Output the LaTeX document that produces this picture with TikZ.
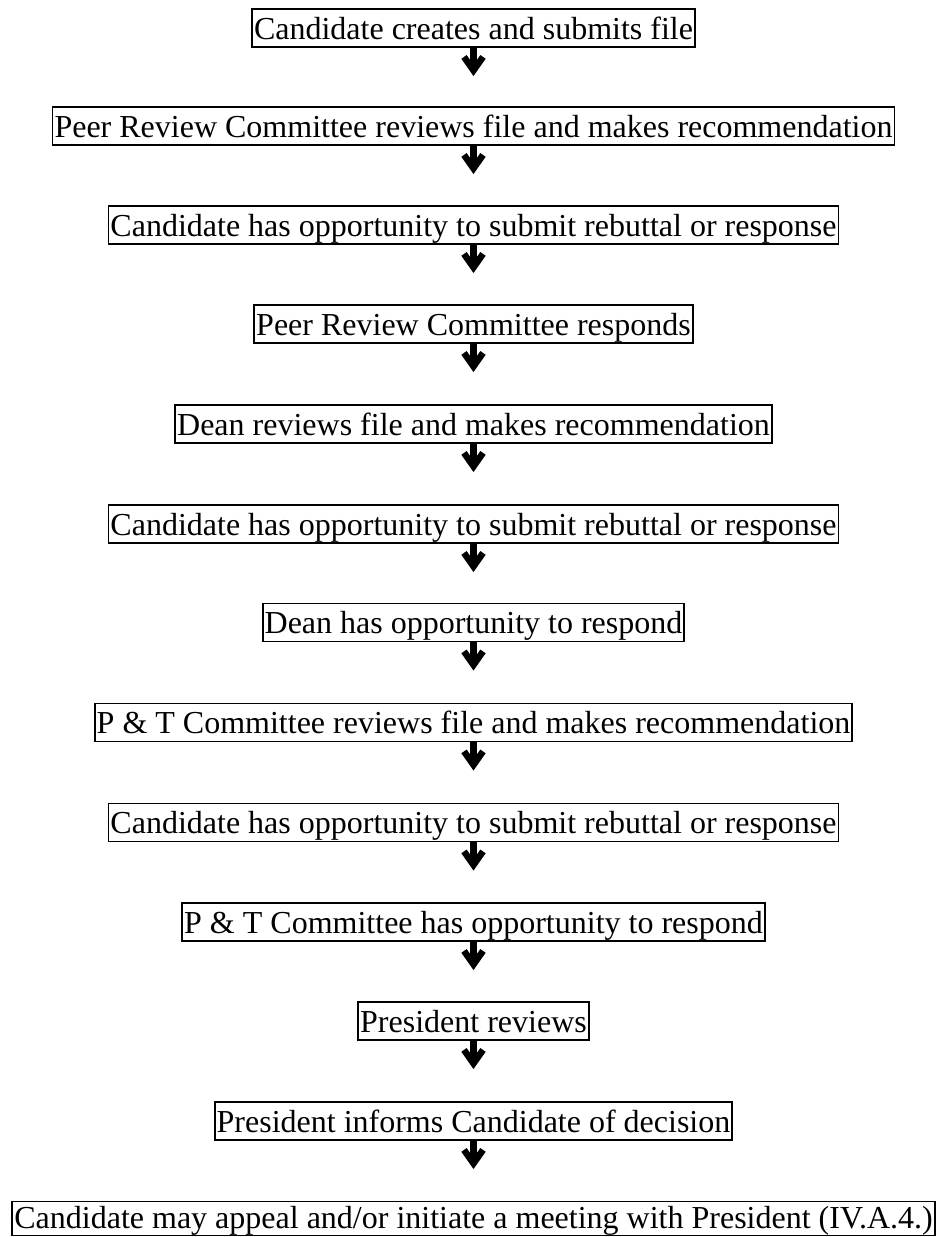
\documentclass[tikz,border=0pt]{standalone}
\usepackage{fontspec}
\setmainfont{Liberation Serif}
\usetikzlibrary{calc}
\tikzset{
  stepbox/.style={draw, line width=1.8pt, inner xsep=2pt, inner ysep=0.5pt,
    text height=29.5pt, text depth=7.5pt, font=\fontsize{32}{38}\selectfont},
  lastbox/.style={stepbox, text height=26.5pt, text depth=6.5pt},
  shaftline/.style={line width=6.5pt},
  headline/.style={line width=6.5pt, line join=miter, miter limit=10}
}
\begin{document}
\begin{tikzpicture}[x=1pt,y=-1pt]
\useasboundingbox (0,0) rectangle (938,1237);
\node[stepbox] (b1) at (473.5,28) {Candidate creates and submits file};
\node[stepbox] (b2) at (473.5,126) {Peer Review Committee reviews file and makes recommendation};
\node[stepbox] (b3) at (473.5,225) {Candidate has opportunity to submit rebuttal or response};
\node[stepbox] (b4) at (473.5,324) {Peer Review Committee responds};
\node[stepbox] (b5) at (473.5,424) {Dean reviews file and makes recommendation};
\node[stepbox] (b6) at (473.5,524) {Candidate has opportunity to submit rebuttal or response};
\node[stepbox] (b7) at (473.5,622.5) {Dean has opportunity to respond};
\node[stepbox] (b8) at (473.5,722.5) {P \& T Committee reviews file and makes recommendation};
\node[stepbox] (b9) at (473.5,822.5) {Candidate has opportunity to submit rebuttal or response};
\node[stepbox] (b10) at (473.5,922) {P \& T Committee has opportunity to respond};
\node[stepbox] (b11) at (473.5,1021) {President reviews};
\node[stepbox] (b12) at (473.5,1121) {President informs Candidate of decision};
\node[lastbox] (b13) at (473.5,1218.5) {Candidate may appeal and/or initiate a meeting with President (IV.A.4.)};
\foreach \a in {b1,b2,b3,b4,b5,b6,b7,b8,b9,b10,b11,b12}{
  \draw[shaftline] (\a.south) -- ($(\a.south)+(0,21)$);
  \draw[headline] ($(\a.south)+(-9.5,9)$) -- ($(\a.south)+(0,22.5)$) -- ($(\a.south)+(9.5,9)$);
}
\end{tikzpicture}
\end{document}
